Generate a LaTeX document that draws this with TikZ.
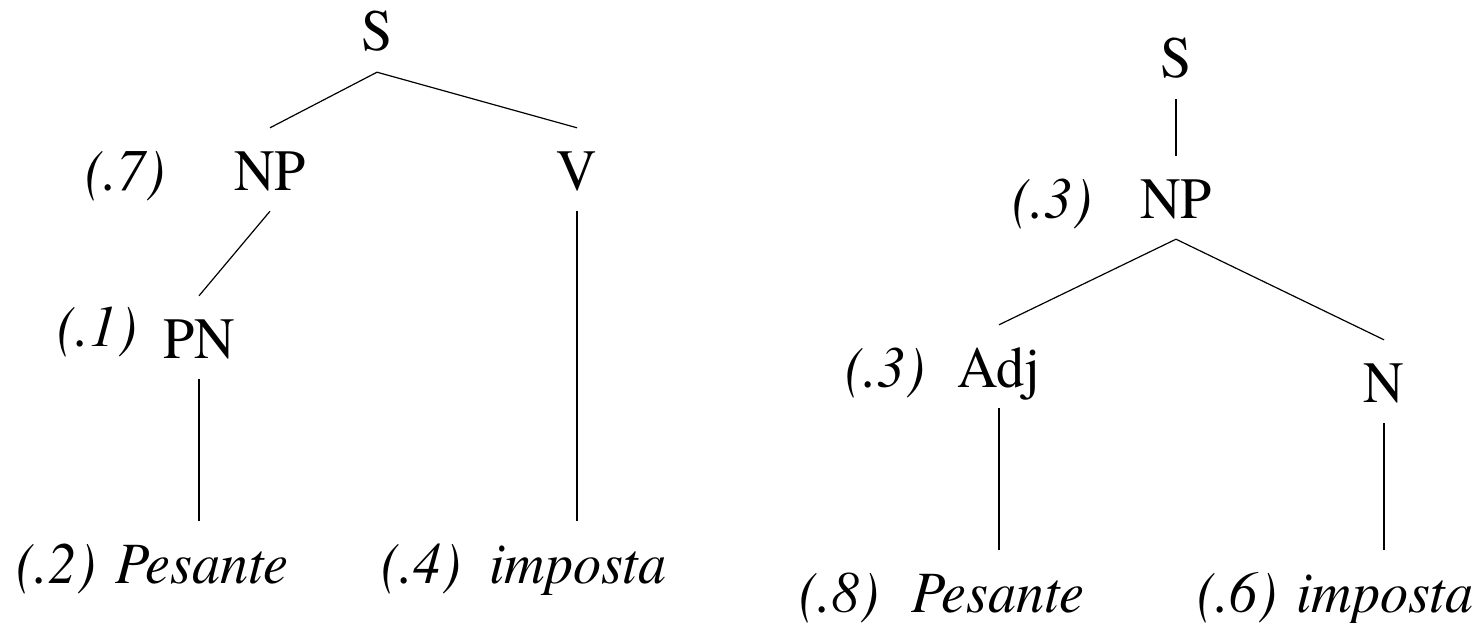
\documentclass[tikz,border=0pt]{standalone}
\usepackage{fontspec}
\newfontfamily\tms{texgyretermes}[Extension=.otf, UprightFont=*-regular, ItalicFont=*-italic, FakeStretch=0.96]
\begin{document}
\begin{tikzpicture}[x=1pt,y=-1pt,
  cat/.style={font=\tms\fontsize{58.5}{62}\selectfont, anchor=base, text height=41pt, text depth=0pt, inner ysep=21pt, inner xsep=2pt},
  word/.style={cat, font=\tms\fontsize{58.5}{62}\selectfont\itshape},
  prob/.style={font=\tms\fontsize{58.5}{62}\selectfont\itshape, anchor=base, inner sep=0pt},
  edge/.style={draw=black, line width=1.2pt}]
\useasboundingbox (0,0) rectangle (1480,623);
% left tree
\node[cat] (lS) at (377,51) {S};
\node[cat] (lNP) at (270,190) {NP};
\node[cat] (lV) at (577,190) {V};
\node[cat] (lPN) at (199,358) {PN};
\node[word] (lPes) at (202,583) {Pesante};
\node[word] (lImp) at (578,583) {imposta};
\node[prob] (p7) at (125,190) {(.7)};
\node[prob] (p1) at (97,346) {(.1)};
\node[prob] (p2) at (56,583) {(.2)};
\node[prob] (p4) at (421,583) {(.4)};
\draw[edge] (lS.south) -- (lNP.north);
\draw[edge] (lS.south) -- (lV.north);
\draw[edge] (lNP.south) -- (lPN.north);
\draw[edge] (lPN.south) -- (lPN.south |- lPes.north);
\draw[edge] (lV.south) -- (lV.south |- lImp.north);
% right tree
\node[cat] (rS) at (1176,78) {S};
\node[cat] (rNP) at (1176,218) {NP};
\node[cat] (rAdj) at (999,387) {Adj};
\node[cat] (rN) at (1384,402) {N};
\node[word] (rPes) at (998,612) {Pesante};
\node[word] (rImp) at (1385,612) {imposta};
\node[prob] (q3a) at (1052,218) {(.3)};
\node[prob] (q3b) at (885,387) {(.3)};
\node[prob] (q8) at (839,612) {(.8)};
\node[prob] (q6) at (1237,612) {(.6)};
\draw[edge] (rS.south) -- (rNP.north);
\draw[edge] (rNP.south) -- (rAdj.north);
\draw[edge] (rNP.south) -- (rN.north);
\draw[edge] (rAdj.south) -- (rAdj.south |- rPes.north);
\draw[edge] (rN.south) -- (rN.south |- rImp.north);
\end{tikzpicture}
\end{document}
